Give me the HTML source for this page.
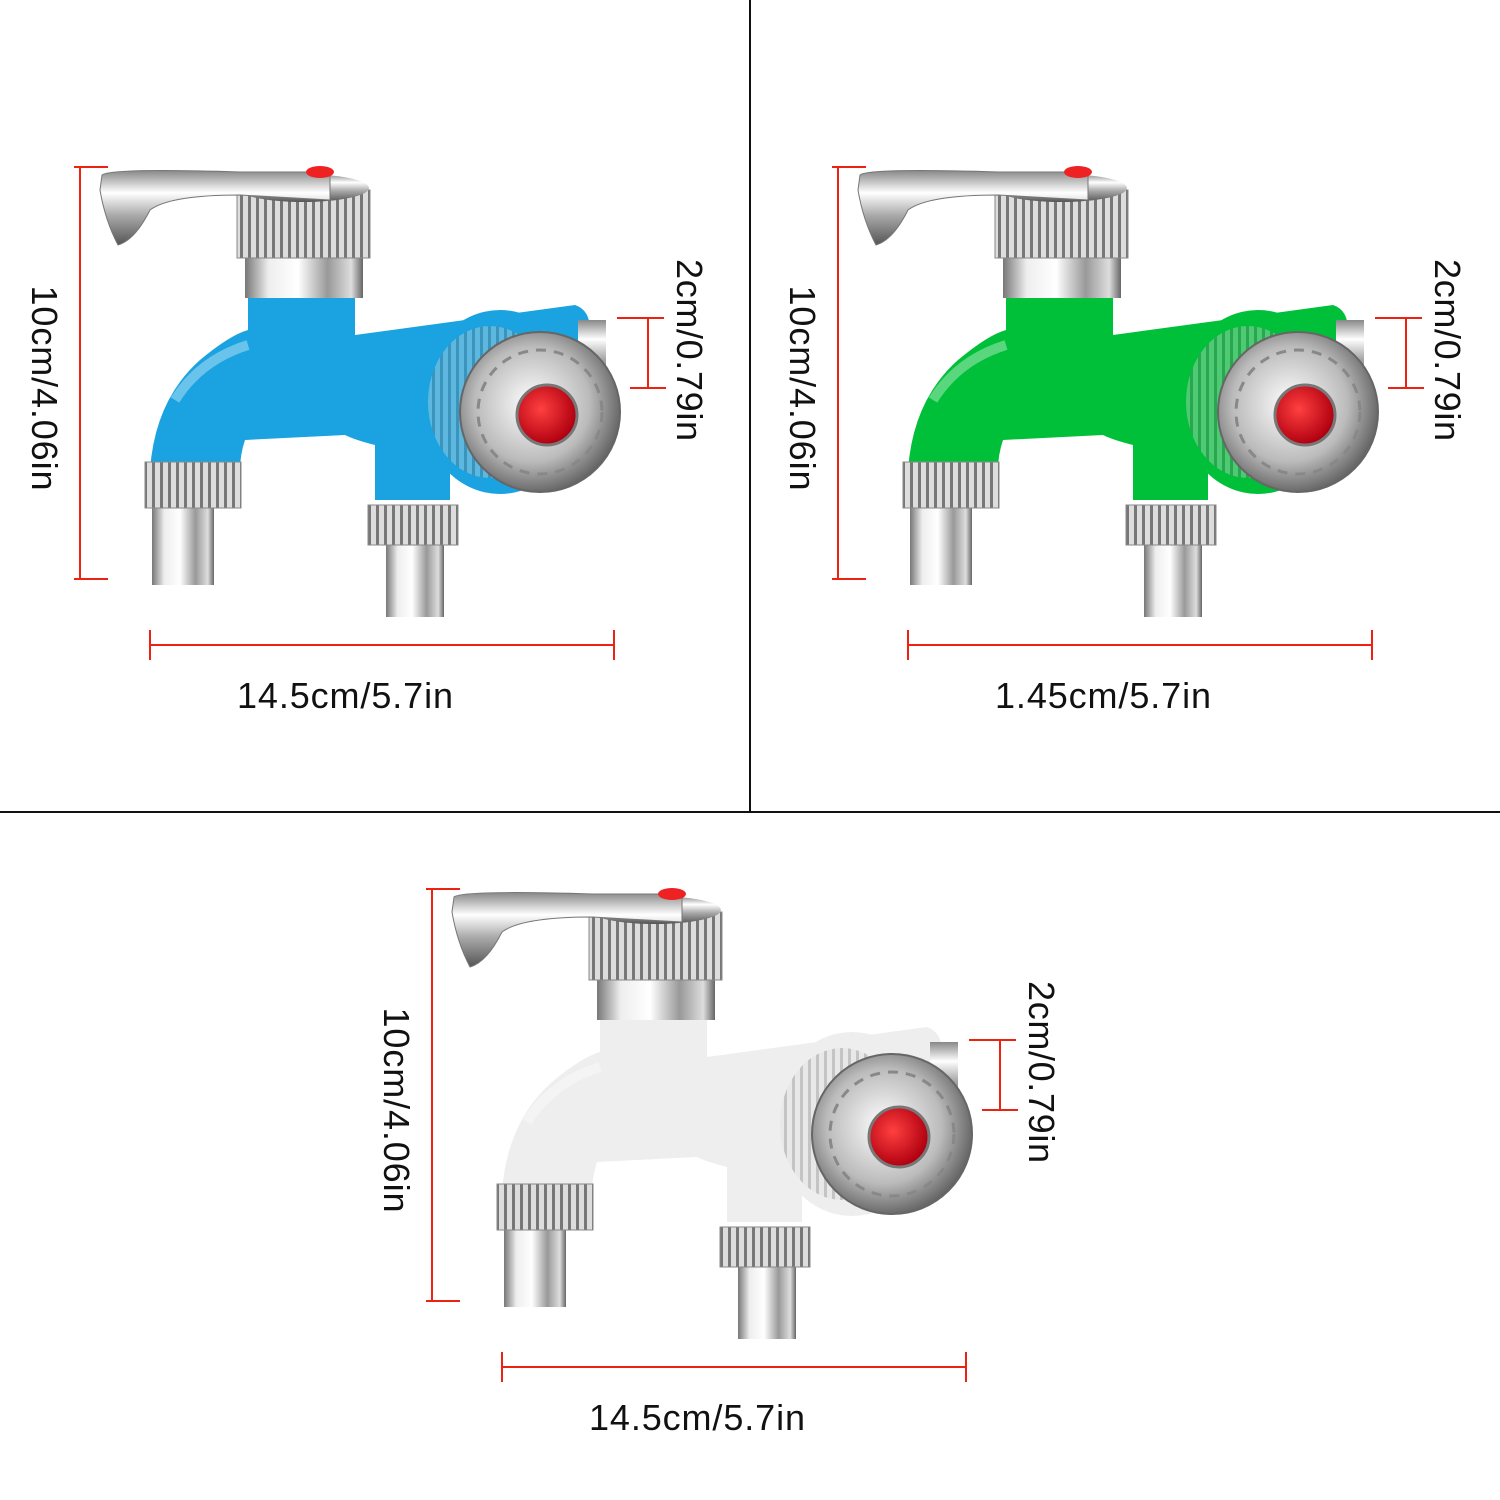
<!DOCTYPE html>
<html><head><meta charset="utf-8"><style>
html,body{margin:0;padding:0;background:#fff;}
svg{display:block;}
text{font-family:"Liberation Sans",sans-serif;font-size:36px;fill:#111;}
</style></head><body>
<svg width="1500" height="1500" viewBox="0 0 1500 1500" xmlns="http://www.w3.org/2000/svg">
<defs>
<linearGradient id="chv" x1="0" y1="0" x2="1" y2="0">
<stop offset="0" stop-color="#777"/><stop offset=".2" stop-color="#eee"/><stop offset=".45" stop-color="#fff"/><stop offset=".7" stop-color="#999"/><stop offset=".9" stop-color="#ddd"/><stop offset="1" stop-color="#666"/></linearGradient>
<linearGradient id="chh" x1="0" y1="0" x2="0" y2="1">
<stop offset="0" stop-color="#888"/><stop offset=".3" stop-color="#fff"/><stop offset=".6" stop-color="#aaa"/><stop offset="1" stop-color="#555"/></linearGradient>
<pattern id="knurl" width="8" height="10" patternUnits="userSpaceOnUse"><rect width="8" height="10" fill="#ddd"/><rect width="3" height="10" fill="#777"/></pattern>
<radialGradient id="disc" cx=".45" cy=".45" r=".6"><stop offset="0" stop-color="#fff"/><stop offset=".6" stop-color="#bbb"/><stop offset="1" stop-color="#555"/></radialGradient>
<radialGradient id="red" cx=".4" cy=".4" r=".6"><stop offset="0" stop-color="#ff4040"/><stop offset="1" stop-color="#b00010"/></radialGradient>
<g id="faucet">
 <path d="M248 290 H355 V335 L575 305 Q590 310 590 330 V420 L450 440 V500 H375 V445 Q355 440 345 435 L245 440 Q240 455 240 470 H150 Q155 400 200 360 Q230 335 248 330 Z" fill="currentColor"/>
 <rect x="248" y="288" width="107" height="14" fill="currentColor" opacity=".8"/>
 <path d="M175 400 Q200 360 248 345" stroke="#fff" stroke-opacity=".35" stroke-width="10" fill="none"/>
 <ellipse cx="500" cy="402" rx="80" ry="92" fill="currentColor"/>
 <ellipse cx="490" cy="402" rx="62" ry="76" fill="url(#knurl)" opacity=".35"/>
 <rect x="578" y="320" width="28" height="64" fill="url(#chh)"/>
 <circle cx="540" cy="412" r="80" fill="url(#disc)" stroke="#666" stroke-width="2"/>
 <circle cx="540" cy="412" r="62" fill="none" stroke="#888" stroke-width="3" stroke-dasharray="10 8"/>
 <circle cx="547" cy="415" r="30" fill="url(#red)" stroke="#777" stroke-width="3"/>
 <rect x="152" y="505" width="62" height="80" fill="url(#chv)"/>
 <rect x="145" y="462" width="96" height="46" fill="url(#knurl)" stroke="#888"/>
 <rect x="386" y="540" width="58" height="77" fill="url(#chv)"/>
 <rect x="368" y="505" width="90" height="40" fill="url(#knurl)" stroke="#888"/>
 <rect x="245" y="255" width="118" height="43" fill="url(#chv)"/>
 <rect x="237" y="190" width="133" height="68" fill="url(#knurl)" stroke="#888"/>
 <ellipse cx="303" cy="188" rx="66" ry="14" fill="url(#chh)"/>
 <path d="M102 175 Q110 168 240 172 L330 172 L330 200 L240 195 Q170 195 150 210 Q135 240 118 245 Q105 220 100 190 Z" fill="url(#chh)" stroke="#777"/>
 <ellipse cx="320" cy="172" rx="14" ry="6" fill="#e22"/>
</g>
</defs>
<rect width="1500" height="1500" fill="#fff"/>
<line x1="750" y1="0" x2="750" y2="812" stroke="#111" stroke-width="2"/>
<line x1="0" y1="812" x2="1500" y2="812" stroke="#111" stroke-width="2"/>

<g id="dims">
 <g stroke="#e21" stroke-width="2">
  <line x1="80" y1="167" x2="80" y2="579"/><line x1="74" y1="167" x2="108" y2="167"/><line x1="74" y1="579" x2="108" y2="579"/>
  <line x1="150" y1="645" x2="614" y2="645"/><line x1="150" y1="630" x2="150" y2="660"/><line x1="614" y1="630" x2="614" y2="660"/>
  <line x1="648" y1="318" x2="648" y2="388"/><line x1="617" y1="318" x2="664" y2="318"/><line x1="630" y1="388" x2="666" y2="388"/>
 </g>
</g>
<use href="#faucet" style="color:#1aa3e0"/>
<use href="#dims" x="758"/>
<use href="#faucet" x="758" style="color:#00c03a"/>
<use href="#dims" x="352" y="722"/>
<use href="#faucet" x="352" y="722" style="color:#eeeeee"/>

<text transform="translate(32,388) rotate(90)" text-anchor="middle" textLength="205">10cm/4.06in</text>
<text x="345" y="708" text-anchor="middle" textLength="216">14.5cm/5.7in</text>
<text transform="translate(677,350) rotate(90)" text-anchor="middle" textLength="182">2cm/0.79in</text>

<text transform="translate(790,388) rotate(90)" text-anchor="middle" textLength="205">10cm/4.06in</text>
<text x="1103" y="708" text-anchor="middle" textLength="216">1.45cm/5.7in</text>
<text transform="translate(1435,350) rotate(90)" text-anchor="middle" textLength="182">2cm/0.79in</text>

<text transform="translate(384,1110) rotate(90)" text-anchor="middle" textLength="205">10cm/4.06in</text>
<text x="697" y="1430" text-anchor="middle" textLength="216">14.5cm/5.7in</text>
<text transform="translate(1029,1072) rotate(90)" text-anchor="middle" textLength="182">2cm/0.79in</text>
</svg>
</body></html>
